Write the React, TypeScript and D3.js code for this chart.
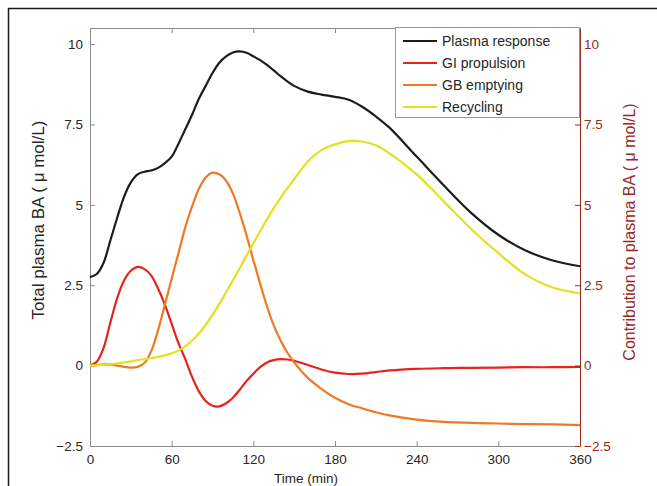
import * as d3 from "d3"
import { useRef, useEffect } from "react"

// sampled time points (min)
const time = [0, 5, 10, 15, 20, 25, 30, 35, 40, 45, 50, 55, 60, 65, 70, 75, 80, 85, 90, 95, 100, 105, 110, 115, 120, 125, 130, 135, 140, 145, 150, 160, 170, 180, 190, 200, 210, 220, 240, 260, 280, 300, 320, 340, 360]

const plasmaResponse = [2.75, 2.85, 3.2, 3.9, 4.6, 5.25, 5.7, 5.95, 6.03, 6.07, 6.15, 6.3, 6.5, 6.9, 7.35, 7.8, 8.3, 8.7, 9.1, 9.42, 9.62, 9.74, 9.77, 9.73, 9.62, 9.5, 9.35, 9.18, 9.0, 8.84, 8.7, 8.52, 8.43, 8.36, 8.27, 8.05, 7.75, 7.4, 6.5, 5.6, 4.75, 4.07, 3.58, 3.27, 3.09]

const giPropulsion = [0, 0.12, 0.55, 1.35, 2.1, 2.65, 2.95, 3.07, 3.0, 2.8, 2.4, 1.9, 1.3, 0.7, 0.2, -0.35, -0.8, -1.1, -1.25, -1.27, -1.17, -1.0, -0.75, -0.48, -0.25, -0.05, 0.1, 0.17, 0.2, 0.19, 0.15, 0.02, -0.12, -0.22, -0.26, -0.25, -0.2, -0.15, -0.1, -0.08, -0.07, -0.06, -0.05, -0.05, -0.04]

const gbEmptying = [0, 0.02, 0.04, 0.03, 0, -0.04, -0.06, -0.04, 0.08, 0.45, 1.1, 1.9, 2.7, 3.5, 4.3, 4.95, 5.5, 5.85, 6.0, 5.95, 5.75, 5.35, 4.75, 4.05, 3.28, 2.55, 1.85, 1.25, 0.78, 0.4, 0.1, -0.38, -0.72, -1.0, -1.2, -1.33, -1.45, -1.55, -1.68, -1.75, -1.78, -1.8, -1.82, -1.83, -1.85]

const recycling = [0, 0.01, 0.02, 0.04, 0.07, 0.1, 0.13, 0.17, 0.2, 0.23, 0.27, 0.32, 0.38, 0.47, 0.6, 0.78, 1.0, 1.27, 1.58, 1.92, 2.28, 2.65, 3.03, 3.42, 3.8, 4.18, 4.55, 4.9, 5.22, 5.52, 5.8, 6.35, 6.7, 6.88, 6.98, 6.97, 6.85, 6.6, 5.95, 5.1, 4.25, 3.5, 2.83, 2.43, 2.25]

const xTicks = [0, 60, 120, 180, 240, 300, 360]
const yTicks = [-2.5, 0, 2.5, 5, 7.5, 10]

const seriesNames = ["Plasma response", "GI propulsion", "GB emptying", "Recycling"]
const seriesColors = ["#1c1c1c", "#e8221c", "#ee7a24", "#e2e21e"]

export default function App() {
  const ref = useRef<SVGSVGElement>(null)

  useEffect(() => {
    const width = 657
    const height = 486
    const marginLeft = 90
    const marginRight = 77
    const marginTop = 28
    const marginBottom = 40
    const font = "Liberation Sans, Arial, Helvetica, sans-serif"
    const axisGray = "#8c8c8c"
    const darkRed = "#962a1f"

    const x = d3.scaleLinear().domain([0, 360]).range([marginLeft, width - marginRight])
    const y = d3.scaleLinear().domain([-2.5, 10.5]).range([height - marginBottom, marginTop])

    const svg = d3.select(ref.current)
    svg.selectAll("*").remove()
    svg.attr("width", width).attr("height", height)

    // figure frame
    svg.append("path")
      .attr("d", `M8.5,${height} V8.5 H${width}`)
      .attr("fill", "none")
      .attr("stroke", "#1a1a1a")
      .attr("stroke-width", 1.5)

    const fmt = (d: any) => d3.format("~g")(d)

    // bottom axis
    const gx = svg.append("g")
      .attr("transform", `translate(0,${height - marginBottom})`)
      .call(d3.axisBottom(x).tickValues(xTicks).tickSize(-5).tickSizeOuter(0).tickPadding(8).tickFormat(fmt))
    // top box edge
    const gt = svg.append("g")
      .attr("transform", `translate(0,${marginTop})`)
      .call(d3.axisTop(x).tickValues(xTicks).tickSize(-5).tickSizeOuter(0).tickFormat(() => ""))
    // left axis
    const gl = svg.append("g")
      .attr("transform", `translate(${marginLeft},0)`)
      .call(d3.axisLeft(y).tickValues(yTicks).tickSize(-5).tickSizeOuter(0).tickPadding(7).tickFormat(fmt))

    for (const g of [gx, gt, gl]) {
      g.select(".domain").attr("stroke", axisGray)
      g.selectAll(".tick line").attr("stroke", axisGray)
      g.selectAll(".tick text").attr("fill", "#262626").attr("font-size", 13.5).attr("font-family", font)
    }

    // lines
    const lineGen = d3.line<number>()
      .x((_, i) => x(time[i]))
      .y((d) => y(d))
      .curve(d3.curveCatmullRom.alpha(0.5))

    const series = [plasmaResponse, giPropulsion, gbEmptying, recycling]
    svg.append("g")
      .selectAll("path")
      .data(series)
      .join("path")
      .attr("d", (d) => lineGen(d))
      .attr("fill", "none")
      .attr("stroke", (_, i) => seriesColors[i])
      .attr("stroke-width", 2.2)
      .attr("stroke-linejoin", "round")

    // right axis
    const gr = svg.append("g")
      .attr("transform", `translate(${width - marginRight},0)`)
      .call(d3.axisRight(y).tickValues(yTicks).tickSize(-5).tickSizeOuter(0).tickPadding(4).tickFormat(fmt))
    gr.select(".domain").attr("stroke", darkRed)
    gr.selectAll(".tick line").attr("stroke", darkRed)
    gr.selectAll(".tick text").attr("fill", darkRed).attr("font-size", 13.5).attr("font-family", font)

    // axis labels
    svg.append("text")
      .attr("x", 306)
      .attr("y", 478)
      .attr("text-anchor", "middle")
      .attr("dominant-baseline", "central")
      .attr("font-size", 13.5)
      .attr("font-family", font)
      .attr("fill", "#262626")
      .text("Time (min)")

    svg.append("text")
      .attr("transform", "translate(38,220) rotate(-90)")
      .attr("text-anchor", "middle")
      .attr("dominant-baseline", "central")
      .attr("font-size", 17)
      .attr("font-family", font)
      .attr("fill", "#262626")
      .text("Total plasma BA ( μ mol/L)")

    svg.append("text")
      .attr("transform", "translate(629,232) rotate(-90)")
      .attr("text-anchor", "middle")
      .attr("dominant-baseline", "central")
      .attr("font-size", 16)
      .attr("font-family", font)
      .attr("fill", darkRed)
      .text("Contribution to plasma BA ( μ mol/L)")

    // legend
    const legend = svg.append("g")
    legend.append("rect")
      .attr("x", 395.5)
      .attr("y", 27.5)
      .attr("width", 184)
      .attr("height", 90)
      .attr("fill", "white")
      .attr("stroke", "#999")
    const rows = legend.selectAll("g.row")
      .data(seriesNames)
      .join("g")
      .attr("class", "row")
      .attr("transform", (_, i) => `translate(0,${41 + i * 22})`)
    rows.append("line")
      .attr("x1", 403)
      .attr("x2", 437)
      .attr("stroke", (_, i) => seriesColors[i])
      .attr("stroke-width", 2.2)
    rows.append("text")
      .attr("x", 442)
      .attr("dominant-baseline", "central")
      .attr("font-size", 14)
      .attr("font-family", font)
      .attr("fill", "#262626")
      .text((d) => d)
  }, [])

  return (
    <svg ref={ref} style={{ position: "absolute", left: 0, top: 0 }}></svg>
  )
}
